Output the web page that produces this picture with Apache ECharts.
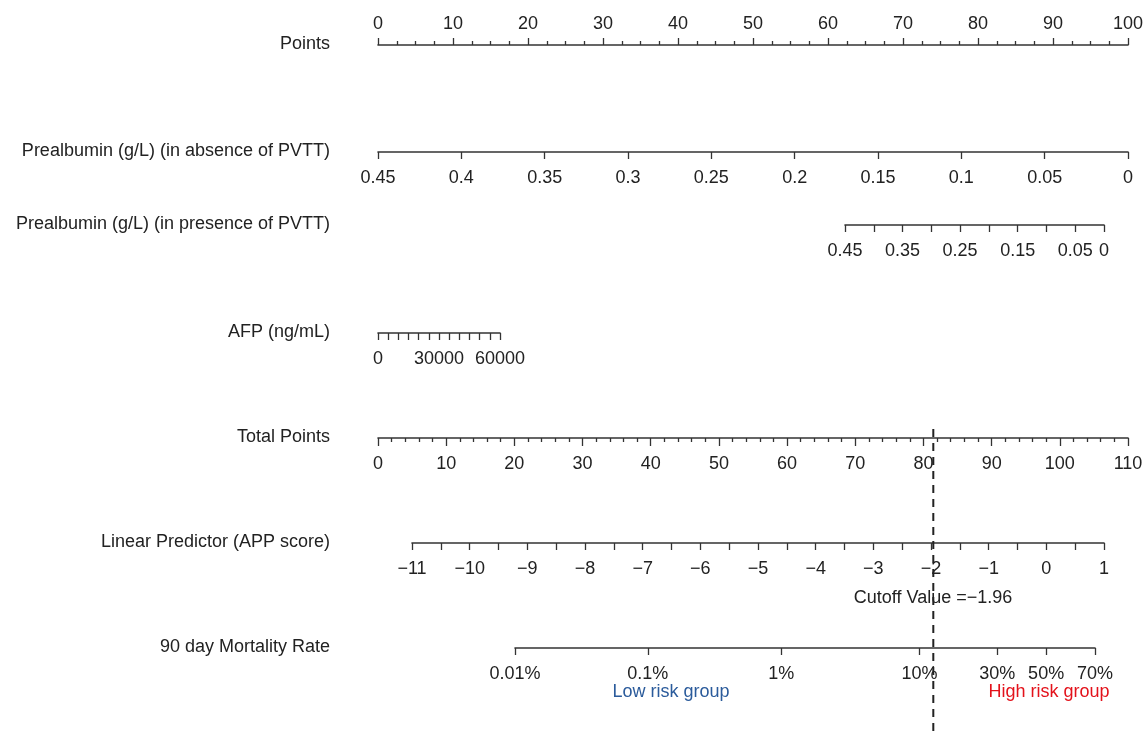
<!DOCTYPE html>
<html>
<head>
<meta charset="utf-8">
<title>Nomogram - 90 day mortality</title>
<script src="https://cdn.jsdelivr.net/npm/echarts@6/dist/echarts.min.js"></script>
<style>
  html, body { margin: 0; padding: 0; background: #fff; }
  #chart { width: 1148px; height: 731px; }
</style>
</head>
<body>
<div id="chart"></div>
<script>
// row names, in order from top to bottom
const rowNames = [
  "Points",
  "Prealbumin (g/L) (in absence of PVTT)",
  "Prealbumin (g/L) (in presence of PVTT)",
  "AFP (ng/mL)",
  "Total Points",
  "Linear Predictor (APP score)",
  "90 day Mortality Rate",
];
const rowY = [45, 152, 225, 333, 438, 543, 648];

// scales
const pointsRange = [0, 100];
const prealbAbsenceRange = [0, 0.45];
const prealbPresenceRange = [0, 0.45];
const prealbPresenceLabels = [0.45, 0.35, 0.25, 0.15, 0.05, 0];
const afpRange = [0, 60000];
const afpLabels = [0, 30000, 60000];
const totalPointsRange = [0, 110];
const lpRange = [-11, 1];
const mortalityProbs = [0.0001, 0.001, 0.01, 0.1, 0.3, 0.5, 0.7];
const mortalityLabels = ["0.01%", "0.1%", "1%", "10%", "30%", "50%", "70%"];
const cutoffValue = -1.96;

const FONT = "Liberation Sans, Arial, Helvetica, sans-serif";
const TXT = "#222";
const LINE = "#333";

const logit = (p) => Math.log(p / (1 - p));
const minus = (s) => String(s).replace("-", "\u2212");
const near = (a, b) => Math.abs(a - b) < 1e-6;

// one thin grid per scale line
function grid(left, right, lineY, top) {
  return {
    left: left,
    right: right,
    top: top ? lineY : lineY - 1,
    height: 1,
    containLabel: false,
    outerBoundsMode: "none",
  };
}

function label(extra) {
  return Object.assign({ show: true, margin: 17, color: TXT, fontSize: 18, fontFamily: FONT }, extra);
}

function axis(idx, cfg) {
  return Object.assign(
    {
      gridIndex: idx,
      type: "value",
      position: "bottom",
      axisLine: { show: true, onZero: false, lineStyle: { color: LINE, width: 1.6 } },
      axisTick: { show: true, inside: false, length: 7, lineStyle: { color: LINE, width: 1.3 } },
      axisLabel: label(),
      splitLine: { show: false },
    },
    cfg
  );
}

const grids = [
  grid(378, 20, rowY[0], true),
  grid(378, 20, rowY[1]),
  grid(845, 44, rowY[2]),
  grid(378, 648, rowY[3]),
  grid(378, 20, rowY[4]),
  grid(412, 44, rowY[5]),
  grid(515, 53, rowY[6]),
  { left: 412, right: 44, top: 423, bottom: 0, containLabel: false, outerBoundsMode: "none" },
];

const xAxes = [
  axis(0, {
    min: pointsRange[0], max: pointsRange[1], interval: 10, position: "top",
    axisTick: { show: true, length: 7, lineStyle: { color: LINE, width: 1.3 } },
    minorTick: { show: true, splitNumber: 4, length: 4, lineStyle: { color: LINE, width: 1.3 } },
    axisLabel: label({ margin: 12 }),
  }),
  axis(1, {
    min: prealbAbsenceRange[0], max: prealbAbsenceRange[1], interval: 0.05, inverse: true,
    axisLabel: label({ formatter: (v) => String(+v.toFixed(2)) }),
  }),
  axis(2, {
    min: prealbPresenceRange[0], max: prealbPresenceRange[1], interval: 0.05, inverse: true,
    axisLabel: label({
      formatter: (v) => (prealbPresenceLabels.some((l) => near(l, v)) ? String(+v.toFixed(2)) : ""),
    }),
  }),
  axis(3, {
    min: afpRange[0], max: afpRange[1], interval: 5000,
    axisLabel: label({
      formatter: (v) => (afpLabels.some((l) => near(l, v)) ? String(v) : ""),
    }),
  }),
  axis(4, {
    min: totalPointsRange[0], max: totalPointsRange[1], interval: 10,
    axisTick: { show: true, length: 8, lineStyle: { color: LINE, width: 1.3 } },
    minorTick: { show: true, splitNumber: 5, length: 4, lineStyle: { color: LINE, width: 1.3 } },
  }),
  axis(5, {
    min: lpRange[0], max: lpRange[1], interval: 0.5,
    axisLabel: label({ formatter: (v) => (Number.isInteger(v) ? minus(v) : "") }),
  }),
  axis(6, {
    min: logit(mortalityProbs[0]),
    max: logit(mortalityProbs[mortalityProbs.length - 1]),
    axisTick: { show: true, length: 7, customValues: mortalityProbs.map(logit), lineStyle: { color: LINE, width: 1.3 } },
    axisLabel: label({
      customValues: mortalityProbs.map(logit),
      formatter: (v) => {
        const i = mortalityProbs.findIndex((p) => Math.abs(logit(p) - v) < 1e-4);
        return i >= 0 ? mortalityLabels[i] : "";
      },
    }),
  }),
  { gridIndex: 7, type: "value", min: lpRange[0], max: lpRange[1], show: false },
];

const yAxes = grids.map((g, i) => ({ gridIndex: i, type: "value", min: 0, max: 1, show: false }));

function text(str, x, y, align, color) {
  return {
    type: "text",
    x: x,
    y: y,
    style: {
      text: str,
      fill: color || TXT,
      font: "18px " + FONT,
      align: align,
      verticalAlign: "middle",
    },
  };
}

const option = {
  animation: false,
  backgroundColor: "#fff",
  grid: grids,
  xAxis: xAxes,
  yAxis: yAxes,
  graphic: rowNames
    .map((name, i) => text(name, 330, rowY[i] - 1, "right"))
    .concat([
      text("Cutoff Value =\u2212" + Math.abs(cutoffValue).toFixed(2), 933, 598, "center"),
      text("Low risk group", 671, 692, "center", "#2b5b9b"),
      text("High risk group", 1049, 692, "center", "#e3121b"),
    ]),
  series: [
    {
      name: "Cutoff",
      type: "line",
      xAxisIndex: 7,
      yAxisIndex: 7,
      data: [[cutoffValue, 0], [cutoffValue, 1]],
      symbol: "none",
      silent: true,
      lineStyle: { color: "#222", width: 2, type: [8, 6] },
    },
  ],
};

const chart = echarts.init(document.getElementById("chart"), null, { renderer: "canvas" });
chart.setOption(option);
</script>
</body>
</html>
